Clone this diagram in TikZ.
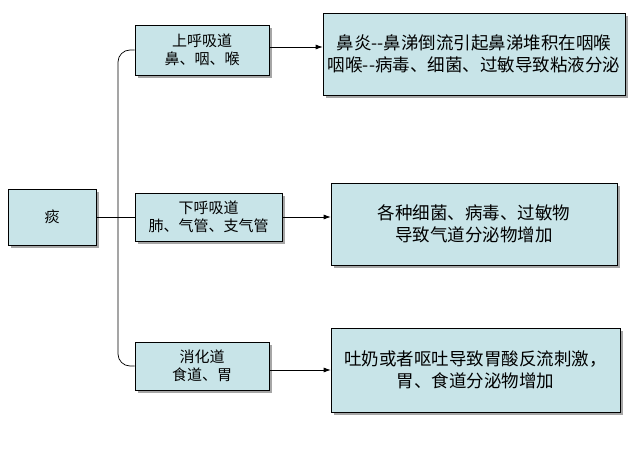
\documentclass[tikz,border=0pt]{standalone}
\usepackage{fontspec}
\newfontfamily\cjk{Noto Sans CJK SC}
\usetikzlibrary{shadows,arrows.meta}
\definecolor{boxfill}{RGB}{200,228,232}
\begin{document}
\begin{tikzpicture}[x=1pt,y=-1pt,
  bx/.style={draw=black,fill=boxfill,line width=0.6pt,font=\cjk\fontsize{15}{18}\selectfont,align=center,inner sep=0pt,
    drop shadow={shadow xshift=3pt,shadow yshift=-3pt,fill=gray!70,opacity=1}},
  big/.style={font=\cjk\fontsize{17.5}{22}\selectfont},
  ar/.style={-{Latex[length=7pt,width=5pt]},line width=0.7pt}]
\useasboundingbox (0,0) rectangle (640,457);
\fill[white] (0,0) rectangle (640,457);
\node[bx,minimum width=88pt,minimum height=56pt] (t) at (52,217) {痰};
\node[bx,minimum width=134pt,minimum height=50pt] (a) at (202,50) {上呼吸道\\鼻、咽、喉};
\node[bx,minimum width=147pt,minimum height=48pt] (b) at (208.5,217) {下呼吸道\\肺、气管、支气管};
\node[bx,minimum width=134pt,minimum height=48pt] (c) at (202,366) {消化道\\食道、胃};
\node[bx,big,minimum width=302pt,minimum height=82pt] (A) at (474,54) {鼻炎--鼻涕倒流引起鼻涕堆积在咽喉\\咽喉--病毒、细菌、过敏导致粘液分泌};
\node[bx,big,minimum width=286pt,minimum height=82pt] (B) at (474,224) {各种细菌、病毒、过敏物\\导致气道分泌物增加};
\node[bx,big,minimum width=289pt,minimum height=84pt] (C) at (475.5,370) {吐奶或者呕吐导致胃酸反流刺激，\\胃、食道分泌物增加};
\coordinate (m) at (118,217);
\draw[line width=0.7pt] (t.east) -- (m);
\draw[line width=0.7pt,rounded corners=12pt] (a.west) -| (m) |- (c.west);
\draw[line width=0.7pt] (m) -- (b.west);
\draw[ar] (a.east |- 0,47) -- (A.west |- 0,47);
\draw[ar] (b.east) -- (B.west |- b.east);
\draw[ar] (c.east |- 0,370) -- (C.west);
\end{tikzpicture}
\end{document}
